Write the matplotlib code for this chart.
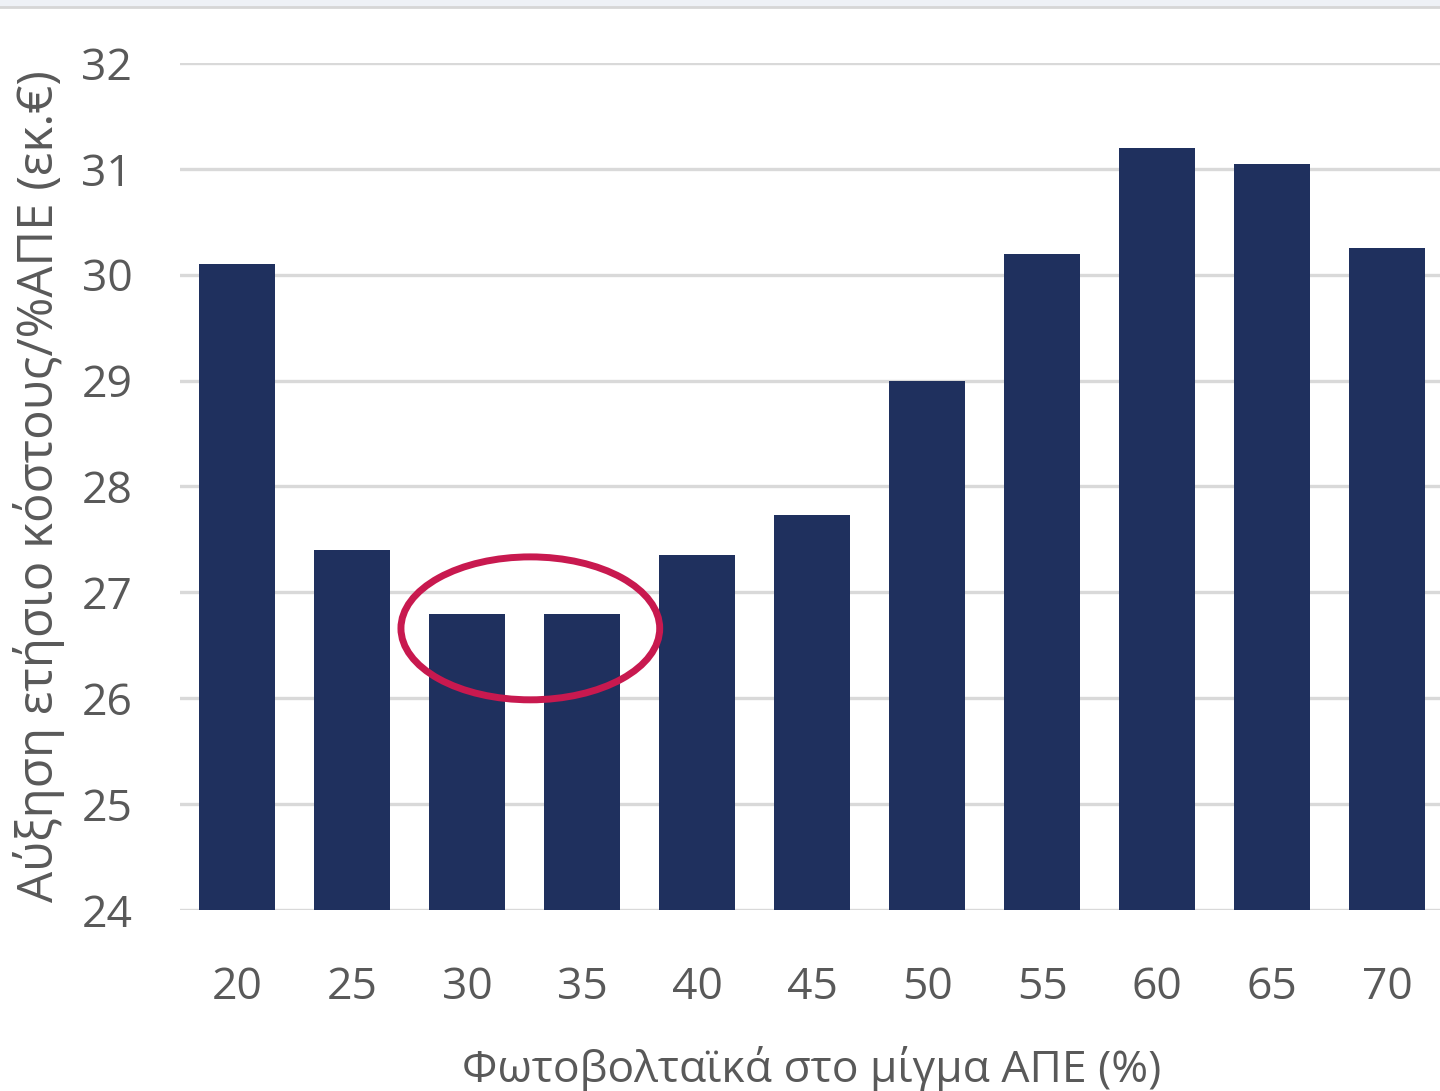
import matplotlib
matplotlib.use("Agg")
import matplotlib.pyplot as plt
from matplotlib.patches import Ellipse, Rectangle

# PV share in the RES mix (%) and annual cost increase per %RES (million €)
pv_share = ["20", "25", "30", "35", "40", "45", "50", "55", "60", "65", "70"]
cost_increase = [30.1, 27.4, 26.8, 26.8, 27.35, 27.73, 29.0, 30.2, 31.2, 31.05, 30.25]
y_ticks = [24, 25, 26, 27, 28, 29, 30, 31, 32]

x_label = "Φωτοβολταϊκά στο μίγμα ΑΠΕ (%)"
y_label = "Αύξηση ετήσιο κόστους/%ΑΠΕ (εκ.€)"

plt.rcParams["font.family"] = ["Open Sans", "DejaVu Sans"]
text_color = "#595959"
bar_color = "#1F305E"
grid_color = "#D9D9D9"
mark_color = "#C8194F"

fig = plt.figure(figsize=(14.4, 10.91), dpi=100)

# thin header band along the top edge
band = fig.add_axes([0, 0.9925, 1, 0.0075])
band.axis("off")
band.add_patch(Rectangle((0, 0), 1, 1, transform=band.transAxes, color="#EEF1F6"))
fig.add_artist(plt.Line2D([0, 1], [0.9935, 0.9935], color="#D6D6D6", lw=2))

ax = fig.add_axes([0.1247, 0.1659, 0.8785, 0.7764])
xpos = list(range(len(pv_share)))
ax.bar(xpos, cost_increase, width=0.66, bottom=0, color=bar_color, zorder=3)

ax.set_ylim(y_ticks[0], y_ticks[-1])
ax.set_xlim(-0.5, len(pv_share) - 0.5)
ax.set_yticks(y_ticks)
ax.set_xticks(xpos)
ax.set_xticklabels(pv_share)

ax.grid(axis="y", color=grid_color, lw=2.4, zorder=0)
ax.set_axisbelow(True)
for s in ax.spines.values():
    s.set_visible(False)
ax.tick_params(axis="both", length=0, labelsize=32, colors=text_color)
ax.tick_params(axis="y", pad=34)
ax.tick_params(axis="x", pad=40)

ax.set_xlabel(x_label, fontsize=32, color=text_color, labelpad=26)
ax.set_ylabel(y_label, fontsize=35.5, color=text_color, labelpad=12)

# highlight the two lowest-cost cases
ax.add_patch(Ellipse((2.55, 26.66), 2.25, 1.35, fill=False,
                     edgecolor=mark_color, lw=5, zorder=5, clip_on=False))

fig.savefig("out.png", dpi=100)
